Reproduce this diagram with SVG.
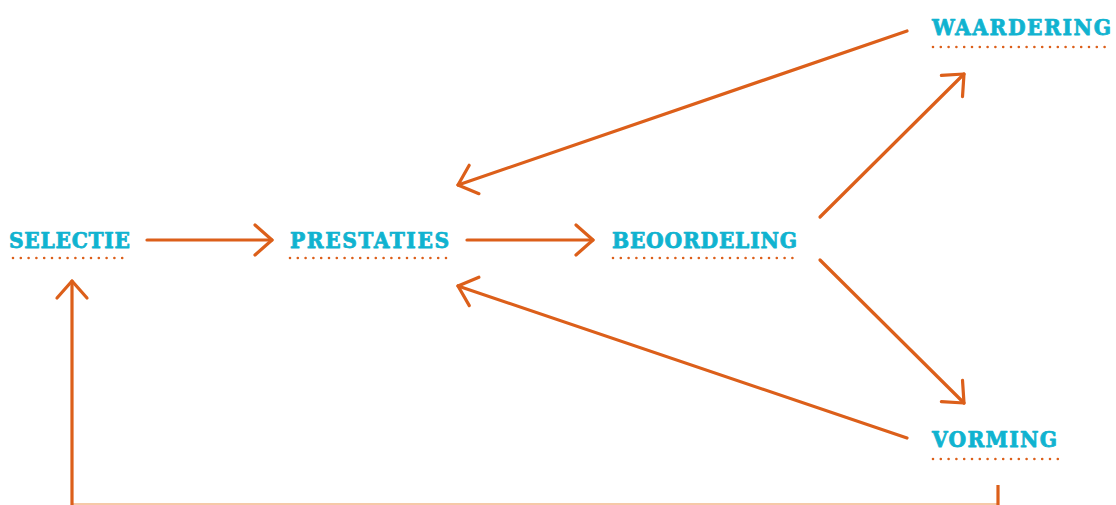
<svg xmlns="http://www.w3.org/2000/svg" width="1116" height="505" viewBox="0 0 1116 505">
<style>
.lbl{font-family:"DejaVu Serif","Liberation Serif",serif;font-weight:bold;font-stretch:condensed;font-size:22.5px;fill:#10b3d0;stroke:#10b3d0;stroke-width:0.75;stroke-linejoin:round}
.dots{stroke:#dc5f1a;stroke-width:2.6;stroke-dasharray:0 7.8;stroke-linecap:round;fill:none}
.arr{stroke:#dc5f1a;stroke-width:3.2;fill:none;stroke-linecap:round;stroke-linejoin:round}
</style>
<defs>
<marker id="chev" markerUnits="userSpaceOnUse" orient="auto" refX="0" refY="0" markerWidth="40" markerHeight="40" viewBox="-20 -20 40 40" overflow="visible">
<path d="M -17 -15 L 0 0 L -17 15" fill="none" stroke="#dc5f1a" stroke-width="3.2" stroke-linecap="round" stroke-linejoin="round"/>
</marker>
</defs>
<rect width="1116" height="505" fill="#ffffff"/>
<g id="connectors">
<line class="arr" x1="147" y1="240" x2="272" y2="240" marker-end="url(#chev)"/>
<line class="arr" x1="467" y1="240" x2="593" y2="240" marker-end="url(#chev)"/>
<line class="arr" x1="907" y1="31" x2="458" y2="185" marker-end="url(#chev)"/>
<line class="arr" x1="907" y1="438" x2="458" y2="286" marker-end="url(#chev)"/>
<line class="arr" x1="820" y1="217" x2="964" y2="74" marker-end="url(#chev)"/>
<line class="arr" x1="820" y1="260" x2="964" y2="403" marker-end="url(#chev)"/>
<line x1="72" y1="504" x2="998" y2="504" stroke="#f6c9a8" stroke-width="2"/>
<line x1="998" y1="485" x2="998" y2="505" stroke="#dc5f1a" stroke-width="3.2"/>
<line class="arr" x1="72" y1="506" x2="72" y2="281" marker-end="url(#chev)"/>
</g>
<g id="selectie">
<text class="lbl" x="9" y="248" textLength="121" lengthAdjust="spacing">SELECTIE</text>
<line class="dots" x1="13" y1="258" x2="130" y2="258"/>
</g>
<g id="prestaties">
<text class="lbl" x="290" y="248" textLength="159" lengthAdjust="spacing">PRESTATIES</text>
<line class="dots" x1="290" y1="258" x2="450" y2="258"/>
</g>
<g id="beoordeling">
<text class="lbl" x="612" y="248" textLength="185" lengthAdjust="spacing">BEOORDELING</text>
<line class="dots" x1="613" y1="258" x2="797" y2="258"/>
</g>
<g id="waardering">
<text class="lbl" x="932" y="35" textLength="179" lengthAdjust="spacing">WAARDERING</text>
<line class="dots" x1="933" y1="47" x2="1111" y2="47"/>
</g>
<g id="vorming">
<text class="lbl" x="932" y="447" textLength="125" lengthAdjust="spacing">VORMING</text>
<line class="dots" x1="933" y1="459" x2="1058" y2="459"/>
</g>
</svg>
